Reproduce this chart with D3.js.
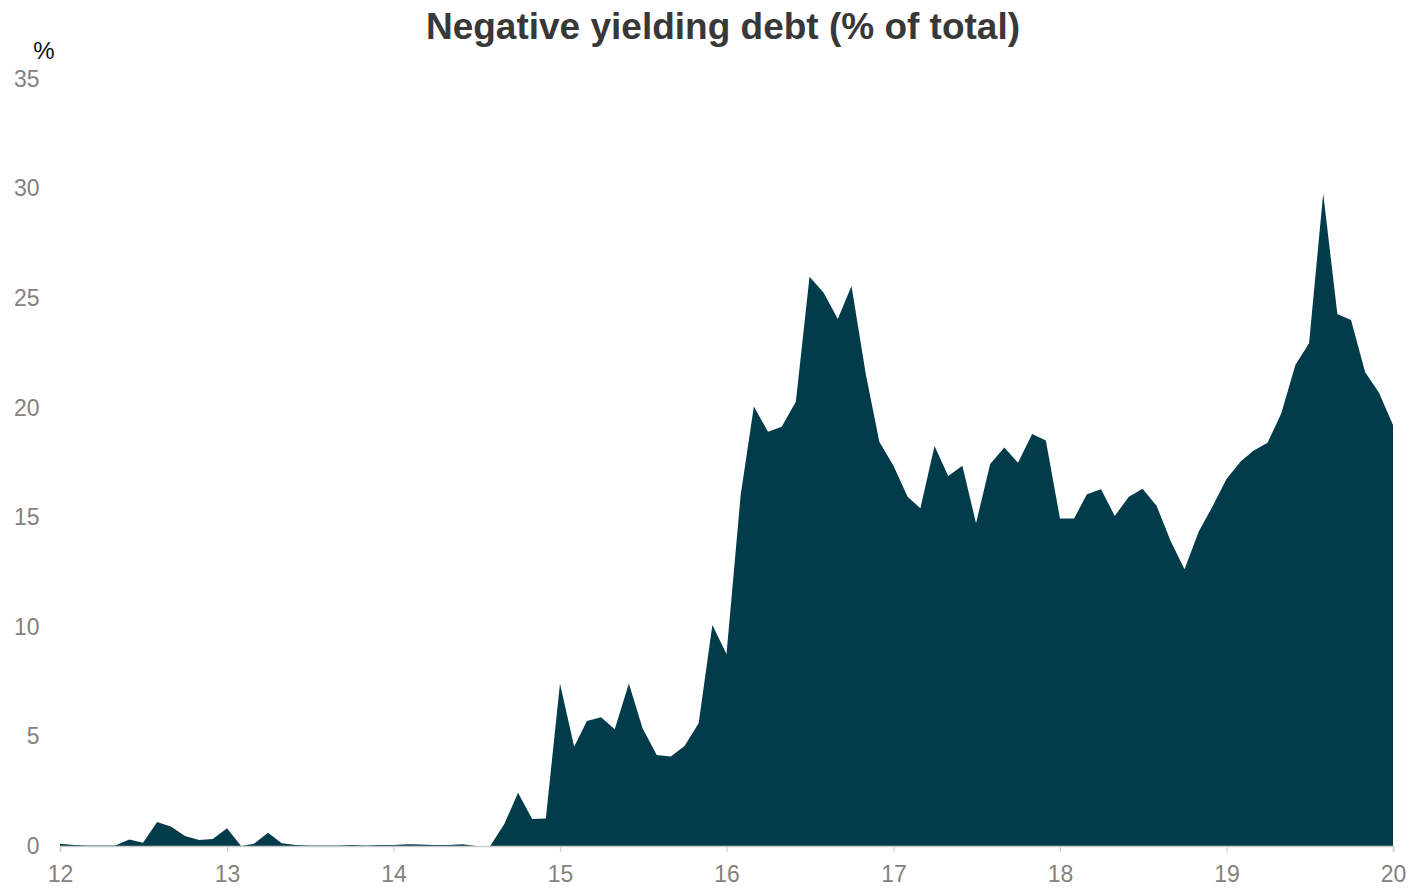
<!DOCTYPE html>
<html>
<head>
<meta charset="utf-8">
<script src="https://cdn.jsdelivr.net/npm/d3@7"></script>
<style>
  html, body { margin: 0; padding: 0; background: #fff; }
  svg { display: block; font-family: "Liberation Sans", Arial, sans-serif; }
</style>
</head>
<body>
<svg id="chart" width="1410" height="889"></svg>
<script>
// Monthly share of negative-yielding debt, Jan 2012 – Jan 2020 (%)
const startMonth = "2012-01";
const values = [
  0.1, 0.05, 0.02, 0.02, 0.02, 0.3, 0.15, 1.1, 0.88, 0.46, 0.27, 0.32,
  0.81, 0.0, 0.1, 0.61, 0.13, 0.05, 0.02, 0.02, 0.02, 0.05, 0.02, 0.05,
  0.05, 0.08, 0.07, 0.05, 0.05, 0.08, 0.0, 0.0, 1.0, 2.43, 1.23, 1.26,
  7.42, 4.53, 5.70, 5.87, 5.33, 7.42, 5.37, 4.15, 4.08, 4.56, 5.6, 10.08,
  8.76, 16.0, 20.05, 18.9, 19.13, 20.27, 25.98, 25.25, 24.05, 25.55, 21.57, 18.45,
  17.35, 15.94, 15.41, 18.25, 16.88, 17.35, 14.73, 17.43, 18.18, 17.49, 18.8, 18.5,
  14.95, 14.95, 16.05, 16.28, 15.06, 15.94, 16.3, 15.51, 13.89, 12.63, 14.34, 15.48,
  16.75, 17.54, 18.04, 18.4, 19.74, 21.95, 22.94, 29.78, 24.28, 24.0, 21.62, 20.69,
  19.21
];
const yTicks = [0, 5, 10, 15, 20, 25, 30, 35];
const xTickYears = ["2012", "2013", "2014", "2015", "2016", "2017", "2018", "2019", "2020"];

const title = "Negative yielding debt (% of total)";
const unitLabel = "%";

const svg = d3.select("#chart");
const margin = { left: 60, right: 17, top: 79, bottom: 43 };
const W = 1410, H = 889;

const parseMonth = d3.timeParse("%Y-%m");
const t0 = parseMonth(startMonth);
const data = values.map((v, i) => ({ date: d3.timeMonth.offset(t0, i), value: v }));
const xTicks = xTickYears.map(y => d3.timeParse("%Y")(y));

const x = d3.scaleTime()
  .domain([xTicks[0], xTicks[xTicks.length - 1]])
  .range([margin.left, W - margin.right]);
const y = d3.scaleLinear()
  .domain([0, 35])
  .range([H - margin.bottom, margin.top]);

// filled area
const area = d3.area()
  .x(d => x(d.date))
  .y0(y(0))
  .y1(d => y(d.value));

svg.append("path")
  .datum(data)
  .attr("d", area)
  .attr("fill", "#023c4a");

// x axis
const xAxis = d3.axisBottom(x)
  .tickValues(xTicks)
  .tickFormat(d3.timeFormat("%y"))
  .tickSize(6)
  .tickPadding(14);

const gx = svg.append("g")
  .attr("transform", `translate(0,${y(0)})`)
  .call(xAxis);
gx.select(".domain").attr("stroke", "#c9c9c9").attr("stroke-width", 1.5);
gx.selectAll(".tick line").attr("stroke", "#d0d0d0").attr("stroke-width", 1.2);
gx.selectAll(".tick text")
  .attr("fill", "#877f7d")
  .style("font-size", "23px")
  .style("font-family", "Liberation Sans, Arial, sans-serif");

// y axis (labels only)
const yAxis = d3.axisLeft(y)
  .tickValues(yTicks)
  .tickSize(0)
  .tickPadding(0);
const gy = svg.append("g")
  .attr("transform", `translate(39.5,0)`)
  .call(yAxis);
gy.select(".domain").remove();
gy.selectAll(".tick text")
  .attr("fill", "#877f7d")
  .style("font-size", "23px")
  .style("font-family", "Liberation Sans, Arial, sans-serif");

// unit label
svg.append("text")
  .attr("x", 44)
  .attr("y", 59)
  .attr("text-anchor", "middle")
  .attr("fill", "#111")
  .style("font-size", "24px")
  .text(unitLabel);

// title
svg.append("text")
  .attr("x", 723)
  .attr("y", 39)
  .attr("text-anchor", "middle")
  .attr("fill", "#383838")
  .style("font-size", "37px")
  .style("font-weight", "bold")
  .text(title);
</script>
</body>
</html>
